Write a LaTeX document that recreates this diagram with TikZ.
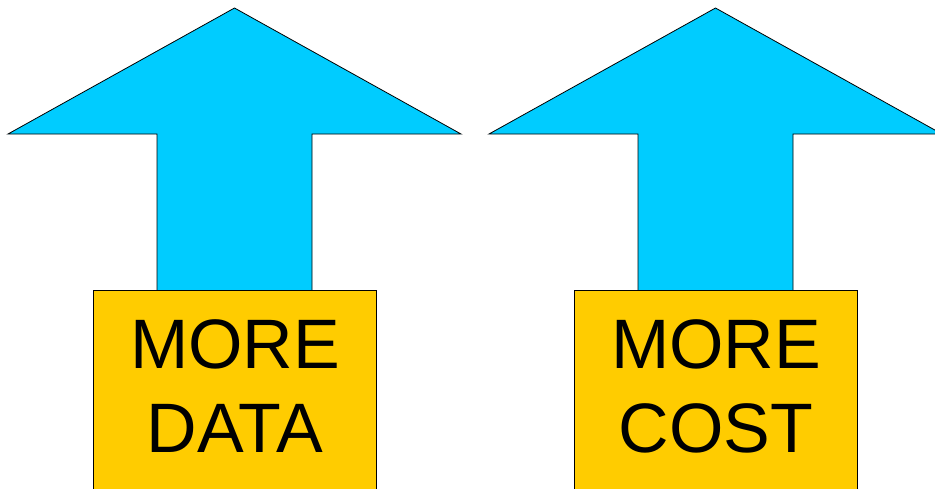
\documentclass[tikz,border=0pt]{standalone}
\usepackage{fontspec}
\setmainfont{Liberation Sans}
\definecolor{arrowcyan}{HTML}{00CCFF}
\definecolor{boxgold}{HTML}{FFCC00}
\tikzset{
  uparrow/.style={fill=arrowcyan, draw=black, line width=0.8pt, line join=miter},
  labelbox/.style={fill=boxgold, draw=black, line width=0.8pt},
  bigword/.style={font=\fontsize{70}{84}\selectfont, text=black, inner sep=0pt, anchor=base}
}
\begin{document}
\begin{tikzpicture}[x=1pt, y=-1pt]
  \useasboundingbox (0,0) rectangle (935,488);
  \clip (0,0) rectangle (935,488);
  % two upward block arrows, shaft tucked behind the label boxes
  \foreach \cx in {234.5, 715.5} {
    \draw[uparrow] (\cx,8) -- (\cx+226.5,134) -- (\cx+77.5,134) -- (\cx+77.5,300)
      -- (\cx-77.5,300) -- (\cx-77.5,134) -- (\cx-226.5,134) -- cycle;
    \draw[labelbox] (\cx-141.5,290) rectangle (\cx+141.5,500);
  }
  % labels
  \node[bigword] (m1) at (235,368) {MORE};
  \node[bigword] (d1) at (235,452) {DATA};
  \node[bigword] (m2) at (716,368) {MORE};
  \node[bigword] (c2) at (716,452) {COST};
\end{tikzpicture}
\end{document}
